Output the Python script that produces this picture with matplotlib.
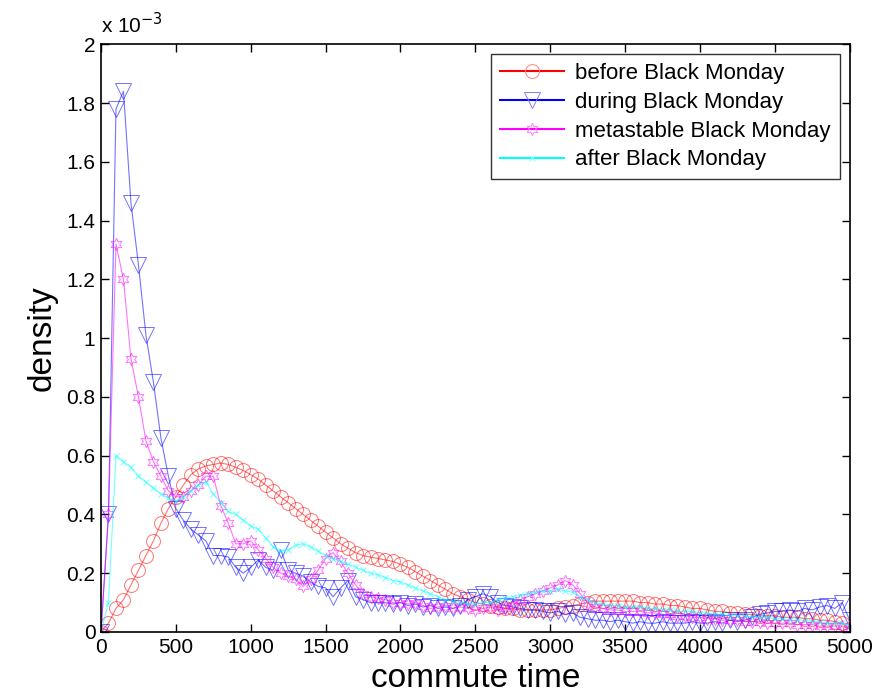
import numpy as np
import matplotlib
matplotlib.use('Agg')
import matplotlib.pyplot as plt
from matplotlib.lines import Line2D
from matplotlib.ticker import FuncFormatter

plt.rcParams['font.family'] = ['Liberation Sans', 'DejaVu Sans']

# commute time bins (every 50 units)
commute_time = np.arange(0, 5001, 50)

# densities, in units of 1e-3
before = [0.00, 0.03, 0.08, 0.11, 0.16, 0.21, 0.26, 0.31, 0.37, 0.42,
          0.46, 0.50, 0.535, 0.555, 0.565, 0.57, 0.575, 0.57, 0.56, 0.55,
          0.535, 0.52, 0.50, 0.48, 0.46, 0.44, 0.42, 0.40, 0.38, 0.36,
          0.34, 0.32, 0.30, 0.285, 0.27, 0.26, 0.255, 0.25, 0.245, 0.24,
          0.23, 0.22, 0.205, 0.19, 0.175, 0.16, 0.145, 0.13, 0.12, 0.11,
          0.10, 0.095, 0.09, 0.085, 0.08, 0.08, 0.075, 0.075, 0.075, 0.075,
          0.075, 0.08, 0.085, 0.09, 0.095, 0.10, 0.105, 0.105, 0.105, 0.105,
          0.105, 0.105, 0.10, 0.10, 0.095, 0.095, 0.09, 0.09, 0.085, 0.08,
          0.08, 0.075, 0.07, 0.07, 0.065, 0.065, 0.06, 0.06, 0.055, 0.055,
          0.055, 0.05, 0.05, 0.05, 0.045, 0.045, 0.04, 0.04, 0.035, 0.03,
          0.01]

during = [0.00, 0.40, 1.78, 1.84, 1.46, 1.25, 1.01, 0.85, 0.66, 0.53,
          0.42, 0.38, 0.35, 0.33, 0.31, 0.26, 0.26, 0.255, 0.22, 0.20,
          0.22, 0.245, 0.22, 0.21, 0.28, 0.21, 0.20, 0.19, 0.17, 0.155,
          0.15, 0.12, 0.15, 0.175, 0.12, 0.11, 0.10, 0.10, 0.10, 0.095,
          0.10, 0.09, 0.095, 0.085, 0.09, 0.08, 0.085, 0.08, 0.09, 0.11,
          0.12, 0.13, 0.12, 0.10, 0.09, 0.085, 0.08, 0.075, 0.075, 0.07,
          0.065, 0.07, 0.06, 0.065, 0.05, 0.045, 0.04, 0.04, 0.035, 0.04,
          0.035, 0.03, 0.035, 0.03, 0.03, 0.035, 0.03, 0.03, 0.03, 0.035,
          0.03, 0.03, 0.035, 0.03, 0.04, 0.035, 0.04, 0.05, 0.06, 0.065,
          0.07, 0.07, 0.075, 0.07, 0.08, 0.075, 0.085, 0.09, 0.08, 0.10,
          0.04]

metastable = [0.00, 0.40, 1.32, 1.20, 0.93, 0.80, 0.65, 0.58, 0.53, 0.48,
              0.46, 0.46, 0.48, 0.50, 0.53, 0.53, 0.43, 0.37, 0.30, 0.30,
              0.31, 0.28, 0.25, 0.22, 0.20, 0.19, 0.18, 0.155, 0.18, 0.21,
              0.25, 0.27, 0.24, 0.20, 0.16, 0.13, 0.12, 0.115, 0.11, 0.10,
              0.10, 0.095, 0.10, 0.09, 0.08, 0.085, 0.09, 0.08, 0.085, 0.08,
              0.075, 0.08, 0.085, 0.075, 0.08, 0.09, 0.11, 0.12, 0.13, 0.14,
              0.15, 0.16, 0.175, 0.16, 0.13, 0.10, 0.085, 0.08, 0.075, 0.075,
              0.07, 0.07, 0.07, 0.065, 0.065, 0.06, 0.06, 0.055, 0.055, 0.05,
              0.05, 0.045, 0.045, 0.04, 0.04, 0.04, 0.035, 0.035, 0.035, 0.03,
              0.03, 0.03, 0.03, 0.025, 0.025, 0.025, 0.02, 0.02, 0.02, 0.02,
              0.01]

after = [0.00, 0.10, 0.60, 0.58, 0.56, 0.53, 0.51, 0.49, 0.47, 0.455,
         0.445, 0.46, 0.48, 0.50, 0.51, 0.47, 0.44, 0.41, 0.40, 0.38,
         0.36, 0.35, 0.32, 0.29, 0.275, 0.28, 0.295, 0.30, 0.29, 0.275,
         0.26, 0.25, 0.24, 0.23, 0.22, 0.21, 0.20, 0.195, 0.185, 0.175,
         0.17, 0.16, 0.15, 0.14, 0.13, 0.12, 0.11, 0.105, 0.10, 0.095,
         0.095, 0.10, 0.10, 0.11, 0.115, 0.12, 0.125, 0.13, 0.135, 0.14,
         0.14, 0.145, 0.14, 0.135, 0.12, 0.11, 0.10, 0.095, 0.09, 0.09,
         0.085, 0.085, 0.085, 0.08, 0.08, 0.075, 0.075, 0.07, 0.07, 0.07,
         0.065, 0.065, 0.06, 0.06, 0.055, 0.055, 0.055, 0.05, 0.05, 0.05,
         0.045, 0.045, 0.04, 0.04, 0.04, 0.035, 0.035, 0.03, 0.03, 0.03,
         0.02]

labels = ['before Black Monday', 'during Black Monday',
          'metastable Black Monday', 'after Black Monday']

hexagram = (6, 1, 0)

fig = plt.figure(figsize=(8.86, 6.98), dpi=100)
ax = fig.add_axes([0.114, 0.0946, 0.845, 0.842])

styles = [
    dict(color='red', marker='o', ms=10),
    dict(color='blue', marker='v', ms=12),
    dict(color='magenta', marker=hexagram, ms=9),
    dict(color='cyan', marker='x', ms=4),
]

for series, st in zip([before, during, metastable, after], styles):
    ax.plot(commute_time, np.array(series) * 1e-3, color=st['color'],
            marker=st['marker'], ms=st['ms'], mfc='none', mew=0.7,
            lw=0.8, alpha=0.55)

handles = [Line2D([], [], color=st['color'], marker=st['marker'],
                  ms=st['ms'], mfc='none', mew=0.7, lw=1.5, alpha=1)
           for st in styles]
for h, ec in zip(handles, ['#ff8080', '#8080ff', '#ff80ff', '#80ffff']):
    h.set_markeredgecolor(ec)

leg = ax.legend(handles, labels, loc='upper right', fontsize=16,
                frameon=True, fancybox=False, edgecolor='black',
                handlelength=2.9, labelspacing=0.35, borderpad=0.4,
                handletextpad=0.5, borderaxespad=0.45)
leg.get_frame().set_linewidth(1.0)

ax.set_xlim(0, 5000)
ax.set_ylim(0, 2e-3)
ax.set_xticks(np.arange(0, 5001, 500))
ax.set_yticks(np.arange(0, 2.01e-3, 0.2e-3))
ax.yaxis.set_major_formatter(FuncFormatter(lambda v, p: '%g' % round(v * 1e3, 1)))
ax.tick_params(direction='in', length=6, width=1, labelsize=15,
               top=True, right=True, pad=4)
for s in ax.spines.values():
    s.set_linewidth(1.2)

ax.text(0.0, 1.012, r'x 10$^{-3}$', transform=ax.transAxes, fontsize=15,
        ha='left', va='bottom')

ax.set_xlabel('commute time', fontsize=24, labelpad=5)
ax.set_ylabel('density', fontsize=24, labelpad=6)

fig.savefig('out.png', dpi=100)
